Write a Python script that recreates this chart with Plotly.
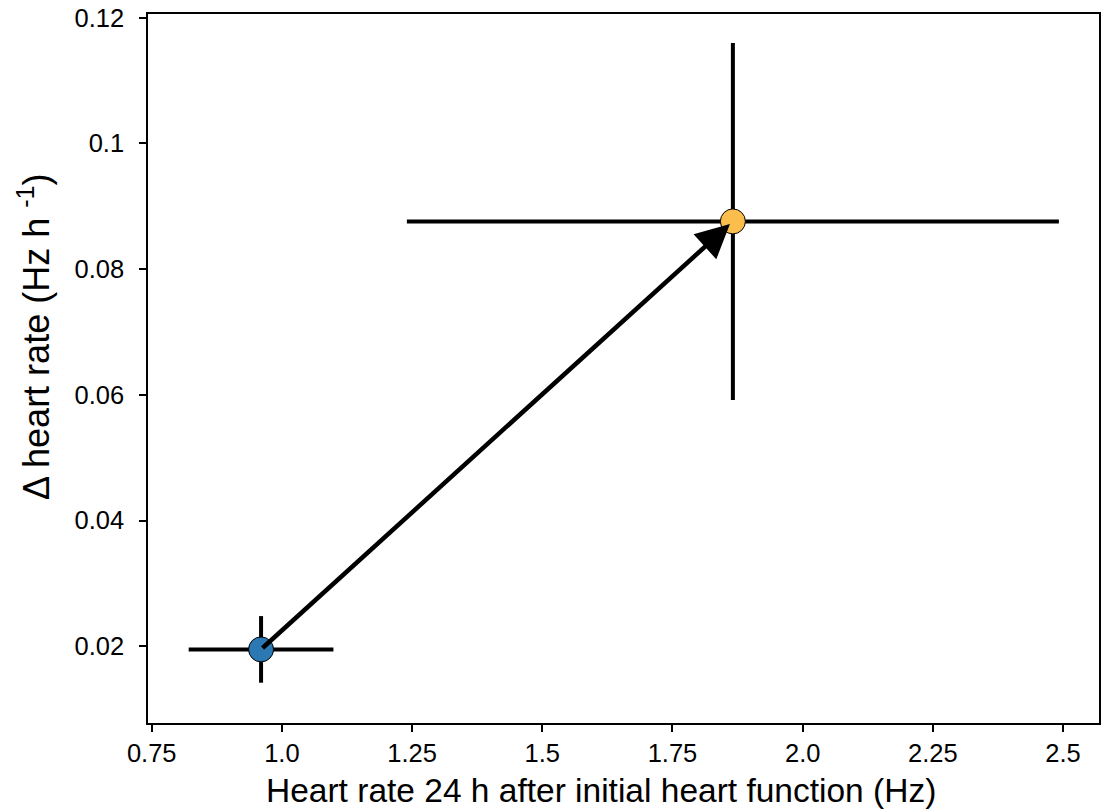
import plotly.graph_objects as go

# Data
x_vals = [0.96, 1.866]
y_vals = [0.0195, 0.0876]
x_err = [0.139, 0.626]
y_err = [0.0053, 0.0284]
colors = ["#2b78b3", "#fbbd4c"]

x_tickvals = [0.75, 1.0, 1.25, 1.5, 1.75, 2.0, 2.25, 2.5]
x_ticktext = ["0.75", "1.0", "1.25", "1.5", "1.75", "2.0", "2.25", "2.5"]
y_tickvals = [0.02, 0.04, 0.06, 0.08, 0.1, 0.12]
y_ticktext = ["0.02", "0.04", "0.06", "0.08", "0.1", "0.12"]
x_title = "Heart rate 24 h after initial heart function (Hz)"
y_title = "Δ heart rate (Hz h <sup>-1</sup>)"

fig = go.Figure()
for i in range(len(x_vals)):
    fig.add_trace(go.Scatter(
        x=[x_vals[i]], y=[y_vals[i]], mode="markers",
        marker=dict(size=25, color=colors[i], line=dict(color="black", width=1)),
        error_x=dict(type="data", array=[x_err[i]], color="black", thickness=4, width=0),
        error_y=dict(type="data", array=[y_err[i]], color="black", thickness=4, width=0),
        showlegend=False, hoverinfo="skip",
    ))

fig.add_annotation(
    x=x_vals[1], y=y_vals[1], ax=x_vals[0], ay=y_vals[0],
    xref="x", yref="y", axref="x", ayref="y",
    showarrow=True, arrowhead=2, arrowsize=1.5, arrowwidth=4.5,
    arrowcolor="black", standoff=4, text="",
)

# Axis titles as annotations for exact placement
fig.add_annotation(
    text=x_title, xref="paper", yref="paper", x=(601 - 148) / 951, y=(723 - 810) / 709,
    xanchor="center", yanchor="bottom", showarrow=False, font=dict(size=33.5), borderpad=0,
)
fig.add_annotation(
    text=y_title, xref="paper", yref="paper", x=(34 - 148) / 951, y=(723 - 337) / 709,
    xanchor="center", yanchor="middle", textangle=-90, showarrow=False, font=dict(size=36),
)

font_family = "Liberation Sans, Arial, sans-serif"
fig.update_layout(
    width=1102, height=810,
    margin=dict(l=148, r=3, t=14, b=87),
    paper_bgcolor="white", plot_bgcolor="white",
    font=dict(family=font_family, size=25, color="black"),
    xaxis=dict(
        range=[0.7429, 2.569], tickvals=x_tickvals, ticktext=x_ticktext,
        automargin=False,
        showgrid=False, zeroline=False, showline=True, linecolor="black", linewidth=1.5,
        mirror=True, ticks="outside", ticklen=7, tickwidth=1.5, tickcolor="black",
        tickfont=dict(size=25.5),
    ),
    yaxis=dict(
        range=[0.00779, 0.1206], tickvals=y_tickvals, ticktext=y_ticktext,
        automargin=False,
        showgrid=False, zeroline=False, showline=True, linecolor="black", linewidth=1.5,
        mirror=True, ticks="outside", ticklen=7, tickwidth=1.5, tickcolor="black",
        tickfont=dict(size=25.5), ticklabelstandoff=10,
    ),
)

fig.write_html("out.html", config={"displayModeBar": False},
               post_script="document.body.style.margin='0';")
